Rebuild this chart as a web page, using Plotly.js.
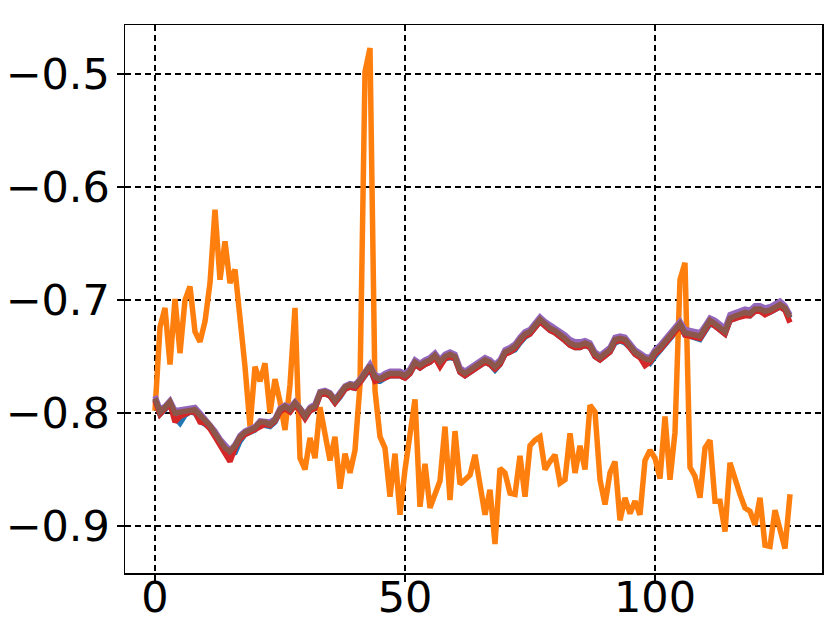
<!DOCTYPE html>
<html>
<head>
<meta charset="utf-8">
<script src="https://cdn.plot.ly/plotly-3.0.1.min.js"></script>
<style>
html,body{margin:0;padding:0;background:#fff;}
#chart{width:830px;height:623px;}
</style>
</head>
<body>
<div id="chart"></div>
<script>
var steps = [];
for (var k = 0; k < 128; k++) steps.push(k);

var orangeSeries = [
-0.798,-0.724,-0.707,-0.757,-0.699,-0.747,-0.700,-0.688,-0.728,-0.737,
-0.719,-0.685,-0.620,-0.682,-0.648,-0.685,-0.673,-0.712,-0.759,-0.812,
-0.759,-0.772,-0.756,-0.800,-0.770,-0.790,-0.815,-0.775,-0.707,-0.840,
-0.850,-0.822,-0.840,-0.795,-0.821,-0.842,-0.821,-0.867,-0.836,-0.853,
-0.833,-0.775,-0.498,-0.477,-0.780,-0.821,-0.831,-0.874,-0.836,-0.890,
-0.850,-0.818,-0.788,-0.883,-0.845,-0.884,-0.871,-0.860,-0.812,-0.877,
-0.816,-0.863,-0.859,-0.855,-0.837,-0.863,-0.890,-0.868,-0.916,-0.849,
-0.853,-0.871,-0.872,-0.838,-0.874,-0.829,-0.824,-0.821,-0.850,-0.843,
-0.837,-0.862,-0.859,-0.818,-0.853,-0.829,-0.850,-0.793,-0.799,-0.859,
-0.881,-0.853,-0.843,-0.895,-0.875,-0.889,-0.878,-0.890,-0.842,-0.833,
-0.840,-0.858,-0.803,-0.859,-0.817,-0.682,-0.667,-0.848,-0.856,-0.875,
-0.831,-0.824,-0.878,-0.878,-0.905,-0.844,-0.859,-0.872,-0.884,-0.887,
-0.899,-0.875,-0.917,-0.918,-0.886,-0.902,-0.920,-0.872
];

var blueSeries = [
-0.788,-0.801,-0.797,-0.792,-0.804,-0.809,-0.802,-0.799,-0.800,-0.807,
-0.810,-0.813,-0.820,-0.827,-0.834,-0.836,-0.835,-0.825,-0.819,-0.817,
-0.815,-0.810,-0.811,-0.812,-0.808,-0.799,-0.797,-0.799,-0.793,-0.799,
-0.804,-0.798,-0.796,-0.784,-0.783,-0.785,-0.791,-0.786,-0.779,-0.777,
-0.778,-0.773,-0.766,-0.761,-0.772,-0.772,-0.769,-0.767,-0.767,-0.767,
-0.769,-0.765,-0.757,-0.760,-0.757,-0.755,-0.751,-0.757,-0.752,-0.751,
-0.752,-0.764,-0.767,-0.764,-0.761,-0.758,-0.755,-0.757,-0.762,-0.757,
-0.748,-0.746,-0.744,-0.738,-0.733,-0.730,-0.724,-0.719,-0.723,-0.727,
-0.729,-0.732,-0.736,-0.740,-0.742,-0.742,-0.740,-0.742,-0.750,-0.753,
-0.749,-0.746,-0.738,-0.736,-0.738,-0.742,-0.748,-0.751,-0.754,-0.756,
-0.750,-0.745,-0.740,-0.735,-0.729,-0.723,-0.731,-0.732,-0.733,-0.735,
-0.728,-0.721,-0.723,-0.726,-0.730,-0.718,-0.716,-0.715,-0.713,-0.714,
-0.710,-0.710,-0.712,-0.711,-0.708,-0.706,-0.709,-0.716
];

var redSeries = [
-0.789,-0.801,-0.796,-0.792,-0.808,-0.803,-0.801,-0.799,-0.799,-0.808,
-0.809,-0.814,-0.821,-0.828,-0.836,-0.843,-0.831,-0.823,-0.819,-0.817,
-0.815,-0.813,-0.810,-0.811,-0.807,-0.799,-0.796,-0.799,-0.793,-0.798,
-0.805,-0.798,-0.796,-0.784,-0.783,-0.785,-0.791,-0.785,-0.779,-0.777,
-0.778,-0.773,-0.766,-0.760,-0.772,-0.771,-0.769,-0.767,-0.767,-0.767,
-0.769,-0.765,-0.757,-0.760,-0.757,-0.755,-0.751,-0.759,-0.752,-0.750,
-0.752,-0.764,-0.767,-0.764,-0.761,-0.758,-0.755,-0.757,-0.761,-0.757,
-0.748,-0.746,-0.743,-0.737,-0.732,-0.730,-0.724,-0.719,-0.723,-0.727,
-0.729,-0.732,-0.736,-0.740,-0.742,-0.742,-0.740,-0.742,-0.750,-0.753,
-0.749,-0.746,-0.737,-0.736,-0.737,-0.742,-0.748,-0.751,-0.758,-0.755,
-0.748,-0.744,-0.739,-0.734,-0.728,-0.723,-0.731,-0.732,-0.733,-0.734,
-0.727,-0.720,-0.723,-0.726,-0.730,-0.718,-0.716,-0.715,-0.714,-0.714,
-0.710,-0.710,-0.713,-0.711,-0.708,-0.706,-0.709,-0.720
];

var purpleSeries = [
-0.785,-0.797,-0.794,-0.789,-0.798,-0.797,-0.797,-0.795,-0.795,-0.800,
-0.805,-0.810,-0.816,-0.823,-0.829,-0.833,-0.828,-0.820,-0.816,-0.814,
-0.812,-0.807,-0.807,-0.808,-0.805,-0.796,-0.793,-0.795,-0.790,-0.795,
-0.801,-0.795,-0.792,-0.781,-0.780,-0.782,-0.788,-0.782,-0.776,-0.774,
-0.775,-0.770,-0.763,-0.757,-0.766,-0.768,-0.765,-0.763,-0.763,-0.763,
-0.765,-0.761,-0.753,-0.756,-0.753,-0.751,-0.747,-0.753,-0.748,-0.746,
-0.748,-0.760,-0.763,-0.760,-0.757,-0.754,-0.751,-0.753,-0.757,-0.753,
-0.744,-0.742,-0.739,-0.733,-0.728,-0.726,-0.720,-0.715,-0.719,-0.722,
-0.724,-0.727,-0.731,-0.735,-0.737,-0.737,-0.736,-0.738,-0.746,-0.749,
-0.745,-0.742,-0.733,-0.732,-0.733,-0.738,-0.744,-0.747,-0.750,-0.751,
-0.744,-0.740,-0.735,-0.730,-0.724,-0.719,-0.726,-0.727,-0.728,-0.729,
-0.723,-0.716,-0.718,-0.721,-0.725,-0.713,-0.711,-0.710,-0.708,-0.709,
-0.705,-0.705,-0.707,-0.706,-0.703,-0.701,-0.705,-0.713
];

var brownSeries = [
-0.787,-0.799,-0.795,-0.790,-0.800,-0.799,-0.799,-0.797,-0.797,-0.802,
-0.807,-0.811,-0.818,-0.825,-0.831,-0.834,-0.829,-0.821,-0.817,-0.815,
-0.813,-0.808,-0.808,-0.810,-0.806,-0.797,-0.794,-0.797,-0.791,-0.796,
-0.803,-0.796,-0.794,-0.782,-0.781,-0.783,-0.789,-0.783,-0.777,-0.775,
-0.776,-0.771,-0.764,-0.758,-0.768,-0.770,-0.767,-0.765,-0.765,-0.765,
-0.767,-0.763,-0.755,-0.758,-0.755,-0.753,-0.749,-0.755,-0.750,-0.748,
-0.750,-0.762,-0.765,-0.762,-0.759,-0.756,-0.753,-0.755,-0.759,-0.755,
-0.746,-0.744,-0.741,-0.735,-0.730,-0.728,-0.722,-0.717,-0.721,-0.725,
-0.727,-0.730,-0.734,-0.738,-0.740,-0.740,-0.738,-0.740,-0.748,-0.751,
-0.747,-0.744,-0.735,-0.734,-0.735,-0.740,-0.746,-0.749,-0.752,-0.753,
-0.746,-0.742,-0.737,-0.732,-0.726,-0.721,-0.729,-0.730,-0.731,-0.732,
-0.725,-0.718,-0.721,-0.724,-0.728,-0.716,-0.714,-0.713,-0.711,-0.712,
-0.708,-0.708,-0.710,-0.709,-0.706,-0.704,-0.707,-0.715
];

var xTickVals = [0, 50, 100];
var yTickVals = [-0.9, -0.8, -0.7, -0.6, -0.5];

function mk(y, color) {
  return {x: steps, y: y, type: 'scatter', mode: 'lines',
          line: {color: color, width: 5.5}, hoverinfo: 'skip', showlegend: false};
}

var data = [
  mk(blueSeries, '#1f77b4'),
  mk(orangeSeries, '#ff7f0e'),
  mk(redSeries, '#d62728'),
  mk(purpleSeries, '#9467bd'),
  mk(brownSeries, '#8c564b')
];

var axisCommon = {
  showline: true, linecolor: '#000', linewidth: 1.5, mirror: true,
  ticks: 'outside', ticklen: 7, tickwidth: 1.5, tickcolor: '#000',
  showgrid: true, gridcolor: '#000', gridwidth: 1.5, griddash: '6px,4px',
  zeroline: false,
  tickfont: {family: 'DejaVu Sans', size: 43, color: '#000'}
};

var layout = {
  width: 830, height: 623,
  margin: {l: 125, r: 8, t: 25, b: 50},
  paper_bgcolor: '#fff', plot_bgcolor: '#fff',
  xaxis: Object.assign({}, axisCommon, {range: [-6, 133.4], tickmode: 'array', tickvals: xTickVals, ticklabelstandoff: -21}),
  yaxis: Object.assign({}, axisCommon, {range: [-0.9416, -0.4566], tickmode: 'array', tickvals: yTickVals, tickformat: '.1f', ticklabelstandoff: -2})
};

Plotly.newPlot('chart', data, layout, {displayModeBar: false, staticPlot: true});
</script>
</body>
</html>
